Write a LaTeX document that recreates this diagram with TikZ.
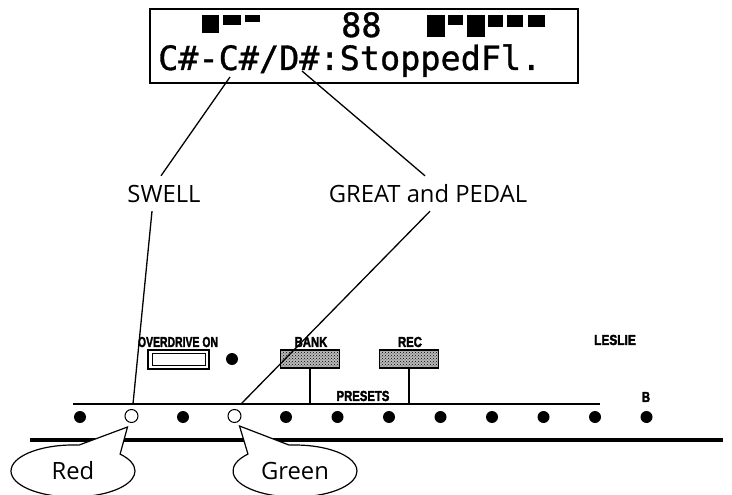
\documentclass[tikz,border=0pt]{standalone}
\usepackage{fontspec}
\setmainfont{Open Sans}
\newfontfamily\lcdfont[FakeBold=1]{DejaVu Sans Mono}
\newfontfamily\panelfont[BoldFeatures={FakeBold=2.5}]{Liberation Sans}
\usetikzlibrary{shapes.callouts,patterns}
\begin{document}
\begin{tikzpicture}[x=1pt,y=-1pt,
  lbl/.style={inner sep=9pt, text height=17pt, text depth=0pt, font=\fontsize{23.8}{24}\selectfont},
  lcdtxt/.style={anchor=base west, inner sep=0pt, font=\lcdfont\fontsize{33.5}{34}\selectfont},
  plabel/.style={inner sep=0pt, font=\panelfont\bfseries\fontsize{14.5}{14.5}\selectfont},
  conn/.style={line width=1.3pt},
  dotf/.style={circle, fill=black, minimum size=12pt, inner sep=0pt},
  doto/.style={circle, draw, fill=white, line width=1pt, minimum size=13pt, inner sep=0pt},
  hatchbtn/.style={draw, line width=1.3pt, minimum width=59pt, minimum height=18pt, inner sep=0pt,
    preaction={fill=gray!55}, pattern=crosshatch dots, pattern color=black},
  bubble/.style={ellipse callout, draw, line width=1.2pt, fill=white, minimum width=124pt,
    minimum height=52pt, callout pointer arc=44, font=\fontsize{23.8}{24}\selectfont}
]
\useasboundingbox (0,0) rectangle (732,495);

% LCD
\node[draw, line width=2pt, minimum width=428pt, minimum height=74pt, inner sep=0pt] (lcd) at (364,46) {};
\fill (202,15) rectangle (219,33);
\fill (223,15) rectangle (241,25);
\fill (245,15) rectangle (260,22);
\node[lcdtxt] (num) at (341,37) {88};
\fill (427,15) rectangle (445,37);
\fill (448,15) rectangle (463,25);
\fill (467,15) rectangle (485,37);
\fill (488,15) rectangle (503,27);
\fill (507,15) rectangle (523,27);
\fill (528,15) rectangle (545,27);
\node[lcdtxt] (row2) at (158,70) {C\#-C\#/D\#:StoppedFl.};

\coordinate (cC) at (230,77);
\coordinate (cD) at (302,71);

% labels
\node[lbl] (swell) at (164,193.5) {SWELL};
\node[lbl] (great) at (428,193.5) {GREAT and PEDAL};

% panel
\node[plabel] (odl) at (178,342) {\scalebox{0.72}[1]{OVERDRIVE ON}};
\node[draw, line width=1.3pt, minimum width=61pt, minimum height=19pt, inner sep=0pt] (odb) at (178.5,359.5) {};
\draw[line width=0.7pt] (152,353.5) rectangle (205,365.5);
\node[dotf] (odd) at (232,359) {};

\node[plabel] (bankl) at (311,342) {\scalebox{0.78}[1]{BANK}};
\node[hatchbtn] (bank) at (310,359) {};
\node[plabel] (recl) at (410,342) {\scalebox{0.78}[1]{REC}};
\node[hatchbtn] (rec) at (409,359) {};
\node[plabel] (presets) at (363,396) {\scalebox{0.78}[1]{PRESETS}};
\node[plabel] (leslie) at (615,340) {\scalebox{0.82}[1]{LESLIE}};
\node[plabel] (bl) at (646,397) {\scalebox{0.78}[1]{B}};

\coordinate (hl) at (73,404);
\coordinate (hr) at (600,404);
\draw[line width=2pt] (hl) -- (hr);
\draw[line width=1.8pt] (bank.south) -- (bank.south |- hl);
\draw[line width=1.8pt] (rec.south) -- (rec.south |- hl);

\foreach \i in {0,2,4,5,6,7,8,9,10,11} {
  \node[dotf] (d\i) at ({80+51.5*\i},417) {};
}
\node[doto] (d1) at (131.5,416) {};
\node[doto] (d3) at (234.5,416) {};

% connectors
\coordinate (r1) at (133,404);
\coordinate (g1) at (241,404);
\draw[conn] (cC) -- ([xshift=-3pt]swell.north);
\draw[conn] ([xshift=-12pt]swell.south) -- (r1);
\draw[conn] (cD) -- ([xshift=-3pt]great.north);
\draw[conn] ([xshift=2pt]great.south) -- (g1);

% base line
\draw[line width=4.5pt] (30,440) -- (723,440);

% callouts
\node[bubble, callout absolute pointer={([xshift=-4pt,yshift=-4pt]d1.south)}] (red) at (73,471) {Red};
\node[bubble, callout absolute pointer={([xshift=5pt,yshift=-3pt]d3.south)}] (green) at (295,471) {Green};
\end{tikzpicture}
\end{document}
